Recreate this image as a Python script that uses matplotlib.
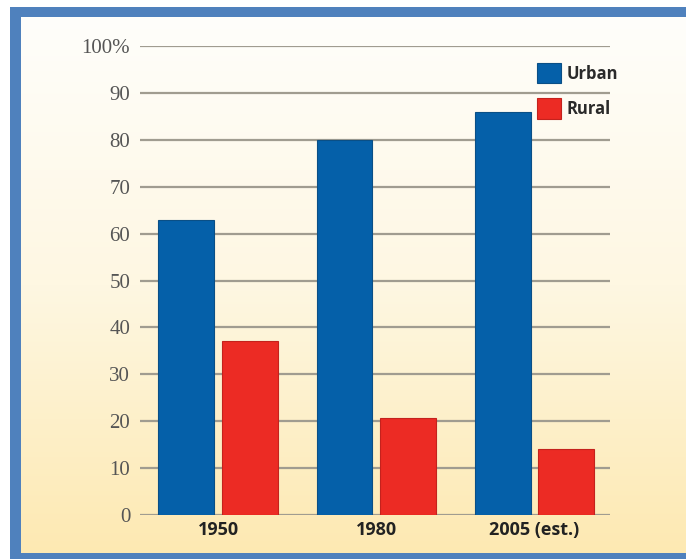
import numpy as np
import matplotlib
matplotlib.use("Agg")
import matplotlib.pyplot as plt
from matplotlib.colors import LinearSegmentedColormap
from matplotlib.patches import Rectangle

# data
years = ["1950", "1980", "2005 (est.)"]
urban = [63, 80, 86]
rural = [37, 20.6, 14]
y_ticks = [0, 10, 20, 30, 40, 50, 60, 70, 80, 90, 100]
y_tick_labels = ["0", "10", "20", "30", "40", "50", "60", "70", "80", "90", "100%"]

blue = "#0560a9"
red = "#ec2b24"
frame_blue = "#4f81bd"

fig = plt.figure(figsize=(6.86, 5.59), dpi=100)
fig.patch.set_facecolor("white")
W, H = 686, 559

# blue frame (open on the right), white margin outside it
fig.patches.append(Rectangle((10 / W, 0), 1 - 10 / W, 1 - 7 / H, transform=fig.transFigure,
                             facecolor=frame_blue, edgecolor="none", zorder=-1))

# inner panel with white -> pale yellow gradient
bg = fig.add_axes([21 / W, 1 - 553 / H, 1 - 21 / W, (553 - 17) / H])
cmap = LinearSegmentedColormap.from_list("bg", ["#fffefb", "#fef7e2", "#fde9b2"])
grad = np.linspace(0, 1, 256).reshape(-1, 1)
bg.imshow(grad, aspect="auto", cmap=cmap, extent=[0, 1, 0, 1], origin="upper")
bg.set_axis_off()

ax = fig.add_axes([140 / W, 1 - 515 / H, (610 - 140) / W, (515 - 46) / H])
ax.patch.set_alpha(0)

x = np.arange(len(years))
w = 0.354
off = 0.2
ax.bar(x - off, urban, w, color=blue, edgecolor="#0a4f86", linewidth=0.8, label="Urban", zorder=3)
ax.bar(x + off, rural, w, color=red, edgecolor="#c4221d", linewidth=0.8, label="Rural", zorder=3)

ax.set_xlim(-0.494, 2.48)
ax.set_ylim(0, 100)
ax.set_yticks(y_ticks)
ax.set_yticklabels(y_tick_labels, fontfamily="Liberation Serif", fontsize=15, color="#555555")
ax.set_xticks(x)
ax.set_xticklabels(years, fontfamily="Open Sans", fontweight="bold", fontsize=13, color="#222222")
ax.tick_params(axis="y", length=0, pad=7)
ax.tick_params(axis="x", length=0, pad=4)
ax.yaxis.grid(True, color="#a09c90", linewidth=1.6, zorder=1)
ax.set_axisbelow(True)
for s in ax.spines.values():
    s.set_visible(False)

leg = ax.legend(loc="upper left", bbox_to_anchor=(0.83, 0.978), frameon=False,
                handlelength=1.45, handleheight=1.5, handletextpad=0.35,
                labelspacing=0.9, borderaxespad=0,
                prop={"family": "Open Sans", "weight": "bold", "size": 12})
for t in leg.get_texts():
    t.set_color("#2a2a2a")

fig.savefig("out.png", dpi=100, facecolor=fig.get_facecolor())
